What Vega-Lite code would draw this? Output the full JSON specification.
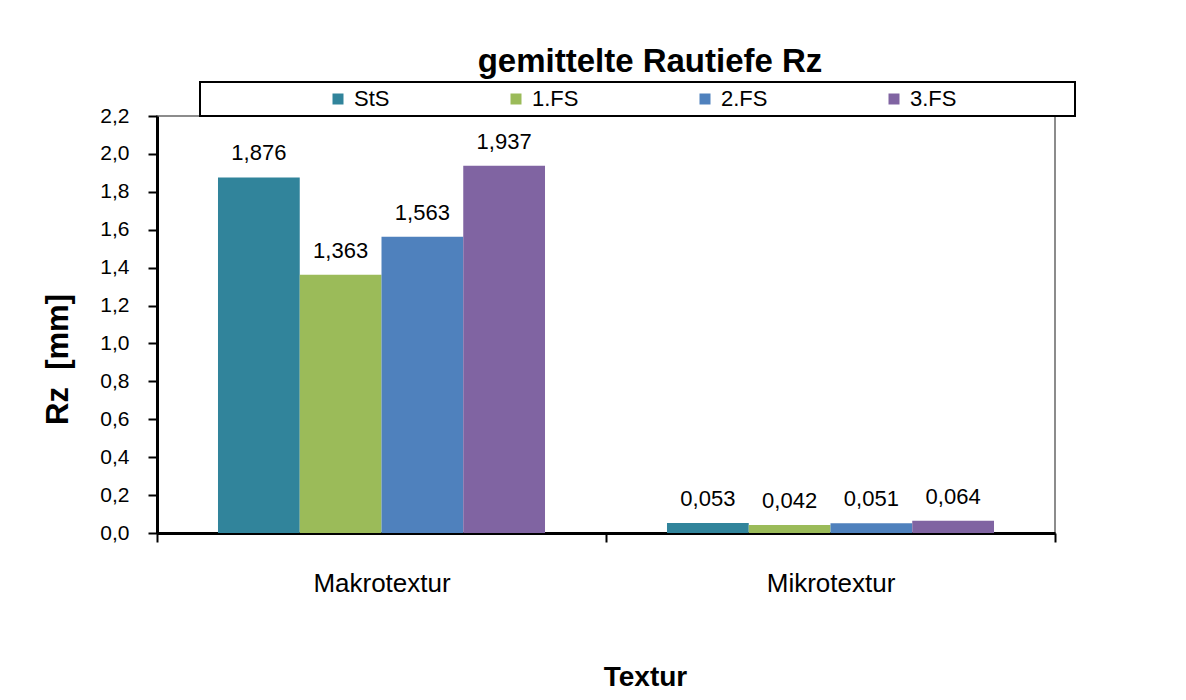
{
  "$schema": "https://vega.github.io/schema/vega-lite/v6.json",
  "autosize": {"type": "none"},
  "width": 898,
  "height": 417,
  "padding": {"left": 157, "top": 116, "right": 131, "bottom": 167},
  "background": "white",
  "title": {
    "text": "gemittelte Rautiefe Rz",
    "fontSize": 33,
    "font": "Liberation Sans",
    "fontWeight": "bold",
    "color": "black",
    "anchor": "middle",
    "dx": 44,
    "offset": -31,
    "baseline": "bottom"
  },
  "config": {
    "font": "Liberation Sans",
    "locale": {"number": {"decimal": ",", "thousands": ".", "grouping": [3], "currency": ["", " €"]}},
    "view": {"stroke": "#8c8c8c", "strokeWidth": 2}
  },
  "data": {
    "values": [
      {"Textur": "Makrotextur", "Serie": "StS", "Rz": 1.876},
      {"Textur": "Makrotextur", "Serie": "1.FS", "Rz": 1.363},
      {"Textur": "Makrotextur", "Serie": "2.FS", "Rz": 1.563},
      {"Textur": "Makrotextur", "Serie": "3.FS", "Rz": 1.937},
      {"Textur": "Mikrotextur", "Serie": "StS", "Rz": 0.053},
      {"Textur": "Mikrotextur", "Serie": "1.FS", "Rz": 0.042},
      {"Textur": "Mikrotextur", "Serie": "2.FS", "Rz": 0.051},
      {"Textur": "Mikrotextur", "Serie": "3.FS", "Rz": 0.064}
    ]
  },
  "encoding": {
    "x": {
      "field": "Textur",
      "type": "nominal",
      "sort": ["Makrotextur", "Mikrotextur"],
      "scale": {"paddingInner": 0, "paddingOuter": 0},
      "axis": {
        "labelAngle": 0,
        "labelFontSize": 26,
        "labelColor": "black",
        "labelPadding": 28,
        "tickBand": "extent",
        "tickSize": 9,
        "tickWidth": 2,
        "tickColor": "black",
        "domainColor": "black",
        "domainWidth": 3,
        "title": "Textur",
        "titleFontSize": 28,
        "titleFontWeight": "bold",
        "titleColor": "black",
        "titlePadding": 67,
        "titleX": 488
      }
    },
    "xOffset": {
      "field": "Serie",
      "type": "nominal",
      "sort": ["StS", "1.FS", "2.FS", "3.FS"],
      "scale": {"paddingInner": 0, "paddingOuter": 0.746}
    },
    "y": {
      "field": "Rz",
      "type": "quantitative",
      "scale": {"domain": [0, 2.2], "nice": false},
      "axis": {
        "values": [0, 0.2, 0.4, 0.6, 0.8, 1.0, 1.2, 1.4, 1.6, 1.8, 2.0, 2.2],
        "format": ".1f",
        "grid": false,
        "labelFontSize": 21,
        "labelColor": "black",
        "labelPadding": 19,
        "tickSize": 9,
        "tickWidth": 2,
        "tickColor": "black",
        "domainColor": "black",
        "domainWidth": 3,
        "title": "Rz\u00a0\u00a0[mm]",
        "titleFontSize": 31,
        "titleFontWeight": "bold",
        "titleColor": "black",
        "titlePadding": 25,
        "titleY": 243
      }
    }
  },
  "layer": [
    {
      "mark": {"type": "bar"},
      "encoding": {
        "color": {
          "field": "Serie",
          "type": "nominal",
          "scale": {
            "domain": ["StS", "1.FS", "2.FS", "3.FS"],
            "range": ["#31849B", "#9BBB59", "#4F81BD", "#8064A2"]
          },
          "legend": {
            "orient": "none",
            "legendX": 43,
            "legendY": -34,
            "direction": "horizontal",
            "columns": 4,
            "title": " ",
            "titleOrient": "left",
            "titleFontSize": 10,
            "titlePadding": 121,
            "padding": 6,
            "strokeColor": "black",
            "fillColor": "white",
            "symbolType": "square",
            "symbolSize": 121,
            "symbolStrokeWidth": 0,
            "symbolOpacity": 1,
            "labelFontSize": 22,
            "labelColor": "black",
            "labelOffset": 5,
            "columnPadding": 115,
            "labelLimit": 400,
            "labelExpr": "datum.label == '3.FS' ? '3.FS\u2800\u2800\u2800\u2800\u2800\u2800\u2800' : datum.label",
            "encode": {"legend": {"update": {"strokeWidth": {"value": 2}}}}
          }
        }
      }
    },
    {
      "mark": {"type": "text", "dy": -17, "baseline": "alphabetic", "fontSize": 22, "color": "black"},
      "encoding": {
        "text": {"field": "Rz", "type": "quantitative", "format": ".3f"}
      }
    }
  ]
}
